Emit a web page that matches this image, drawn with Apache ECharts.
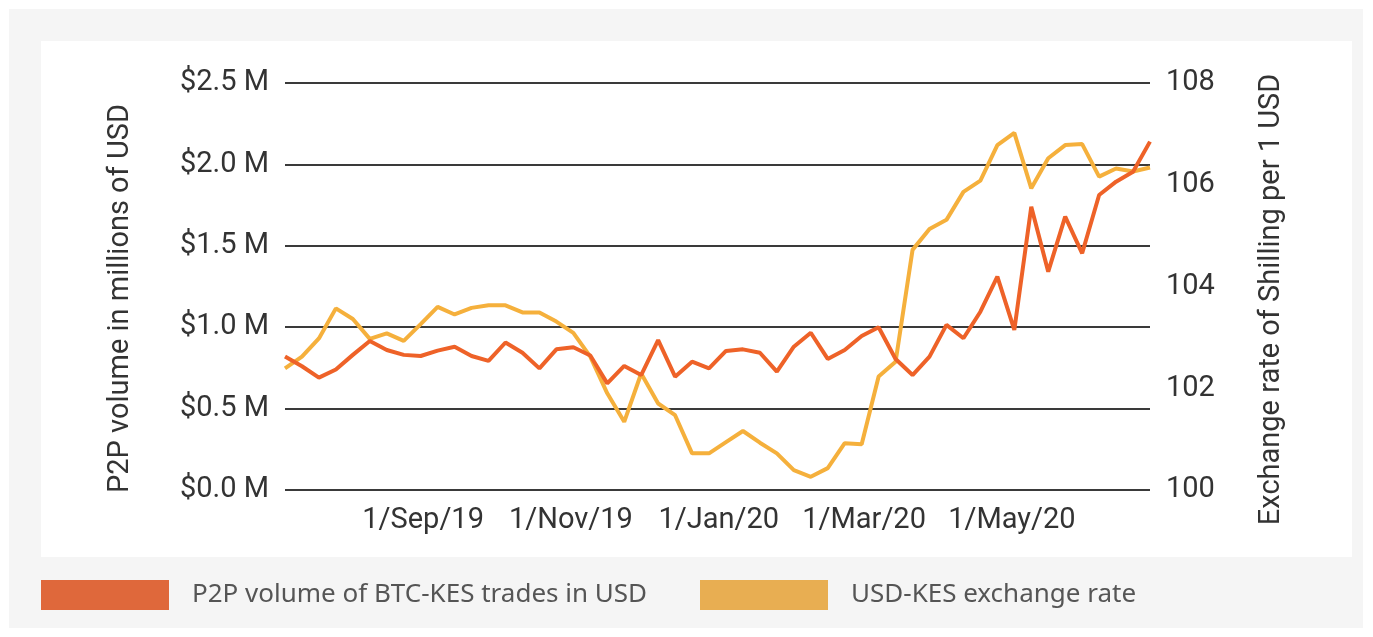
<!DOCTYPE html>
<html>
<head>
<meta charset="utf-8">
<script src="https://cdn.jsdelivr.net/npm/echarts@6/dist/echarts.min.js"></script>
<style>
  html, body { margin: 0; padding: 0; background: #fff; }
  #chart { width: 1373px; height: 637px; }
</style>
</head>
<body>
<div id="chart"></div>
<script>
// weekly dates
const weeks = [
  '2019-07-06', '2019-07-13', '2019-07-20', '2019-07-27', '2019-08-03', '2019-08-10',
  '2019-08-17', '2019-08-24', '2019-08-31', '2019-09-07', '2019-09-14', '2019-09-21',
  '2019-09-28', '2019-10-05', '2019-10-12', '2019-10-19', '2019-10-26', '2019-11-02',
  '2019-11-09', '2019-11-16', '2019-11-23', '2019-11-30', '2019-12-07', '2019-12-14',
  '2019-12-21', '2019-12-28', '2020-01-04', '2020-01-11', '2020-01-18', '2020-01-25',
  '2020-02-01', '2020-02-08', '2020-02-15', '2020-02-22', '2020-02-29', '2020-03-07',
  '2020-03-14', '2020-03-21', '2020-03-28', '2020-04-04', '2020-04-11', '2020-04-18',
  '2020-04-25', '2020-05-02', '2020-05-09', '2020-05-16', '2020-05-23', '2020-05-30',
  '2020-06-06', '2020-06-13', '2020-06-20', '2020-06-27'
];

// P2P volume, millions of USD
const p2pVolume = [
  0.82, 0.76, 0.69, 0.74, 0.83, 0.915, 0.86, 0.83, 0.823, 0.856, 0.88, 0.823,
  0.793, 0.906, 0.843, 0.747, 0.864, 0.877, 0.826, 0.655, 0.762, 0.706, 0.921, 0.696,
  0.788, 0.747, 0.854, 0.864, 0.843, 0.727, 0.88, 0.966, 0.805, 0.86, 0.946, 1.0,
  0.805, 0.706, 0.819, 1.014, 0.932, 1.095, 1.31, 0.983, 1.74, 1.341, 1.679, 1.454,
  1.812, 1.894, 1.955, 2.14
];

// USD-KES exchange rate
const usdKes = [
  102.39, 102.62, 102.98, 103.57, 103.36, 102.97, 103.08, 102.93, 103.26, 103.6, 103.45, 103.58,
  103.63, 103.63, 103.49, 103.49, 103.31, 103.09, 102.62, 101.9, 101.34, 102.29, 101.7, 101.47,
  100.72, 100.72, 100.94, 101.16, 100.93, 100.72, 100.39, 100.26, 100.43, 100.92, 100.9, 102.23,
  102.52, 104.72, 105.13, 105.31, 105.86, 106.08, 106.78, 107.02, 105.93, 106.52, 106.78, 106.8,
  106.16, 106.32, 106.26, 106.34
];

const monthNames = ['Jan', 'Feb', 'Mar', 'Apr', 'May', 'Jun', 'Jul', 'Aug', 'Sep', 'Oct', 'Nov', 'Dec'];

const chart = echarts.init(document.getElementById('chart'));

const axisFont = { fontFamily: 'Roboto', fontSize: 29, color: '#333' };

// legend look shared by both legend blocks
const legendBase = {
  top: 580,
  padding: 0,
  icon: 'rect',
  itemWidth: 128,
  itemHeight: 30,
  textStyle: { fontFamily: 'Noto Sans', fontSize: 26, color: '#555', padding: [2, 0, 0, 18] }
};

const option = {
  animation: false,
  graphic: [
    { type: 'rect', z: -10, silent: true, shape: { x: 9, y: 9, width: 1354, height: 619 }, style: { fill: '#f5f5f5' } },
    { type: 'rect', z: -9, silent: true, shape: { x: 41, y: 41, width: 1311, height: 516 }, style: { fill: '#ffffff' } }
  ],
  grid: { left: 285, right: 223, top: 83, bottom: 147 },
  legend: [
    {
      ...legendBase,
      left: 41,
      data: [{ name: 'P2P volume of BTC-KES trades in USD', itemStyle: { color: '#df683b' } }]
    },
    {
      ...legendBase,
      left: 700,
      data: [{ name: 'USD-KES exchange rate', itemStyle: { color: '#e8ae52' } }]
    }
  ],
  xAxis: {
    type: 'time',
    min: weeks[0],
    max: weeks[weeks.length - 1],
    axisLine: { show: false },
    axisTick: { show: false },
    splitLine: { show: false },
    axisLabel: {
      ...axisFont,
      margin: 16,
      hideOverlap: false,
      formatter: function (value) {
        const d = new Date(value);
        if (d.getDate() !== 1 || d.getMonth() % 2 !== 0) return '';
        return '1/' + monthNames[d.getMonth()] + '/' + String(d.getFullYear()).slice(2);
      }
    }
  },
  yAxis: [
    {
      type: 'value',
      min: 0,
      max: 2.5,
      interval: 0.5,
      name: 'P2P volume in millions of USD',
      nameLocation: 'middle',
      nameRotate: 90,
      nameGap: 150,
      nameTextStyle: { fontFamily: 'Roboto', fontSize: 29, color: '#333', padding: [0, 24, 0, 0] },
      axisLine: { show: false },
      axisTick: { show: false },
      axisLabel: {
        ...axisFont,
        margin: 16,
        formatter: v => '$' + v.toFixed(1) + ' M'
      },
      splitLine: { lineStyle: { color: '#3a3a3a', width: 2 } }
    },
    {
      type: 'value',
      min: 100,
      max: 108,
      interval: 2,
      name: 'Exchange rate of Shilling per 1 USD',
      nameLocation: 'middle',
      nameRotate: 90,
      nameGap: 107,
      nameTextStyle: { fontFamily: 'Roboto', fontSize: 29, color: '#333', padding: [0, 26, 0, 0] },
      axisLine: { show: false },
      axisTick: { show: false },
      axisLabel: { ...axisFont, margin: 16 },
      splitLine: { show: false }
    }
  ],
  series: [
    {
      name: 'P2P volume of BTC-KES trades in USD',
      type: 'line',
      yAxisIndex: 0,
      symbol: 'none',
      z: 3,
      lineStyle: { color: '#ee6228', width: 4 },
      itemStyle: { color: '#ee6228' },
      data: weeks.map((d, i) => [d, p2pVolume[i]])
    },
    {
      name: 'USD-KES exchange rate',
      type: 'line',
      yAxisIndex: 1,
      symbol: 'none',
      z: 2,
      lineStyle: { color: '#f5b03c', width: 4 },
      itemStyle: { color: '#f5b03c' },
      data: weeks.map((d, i) => [d, usdKes[i]])
    }
  ]
};

chart.setOption(option);
window.addEventListener('resize', () => chart.resize());
</script>
</body>
</html>
